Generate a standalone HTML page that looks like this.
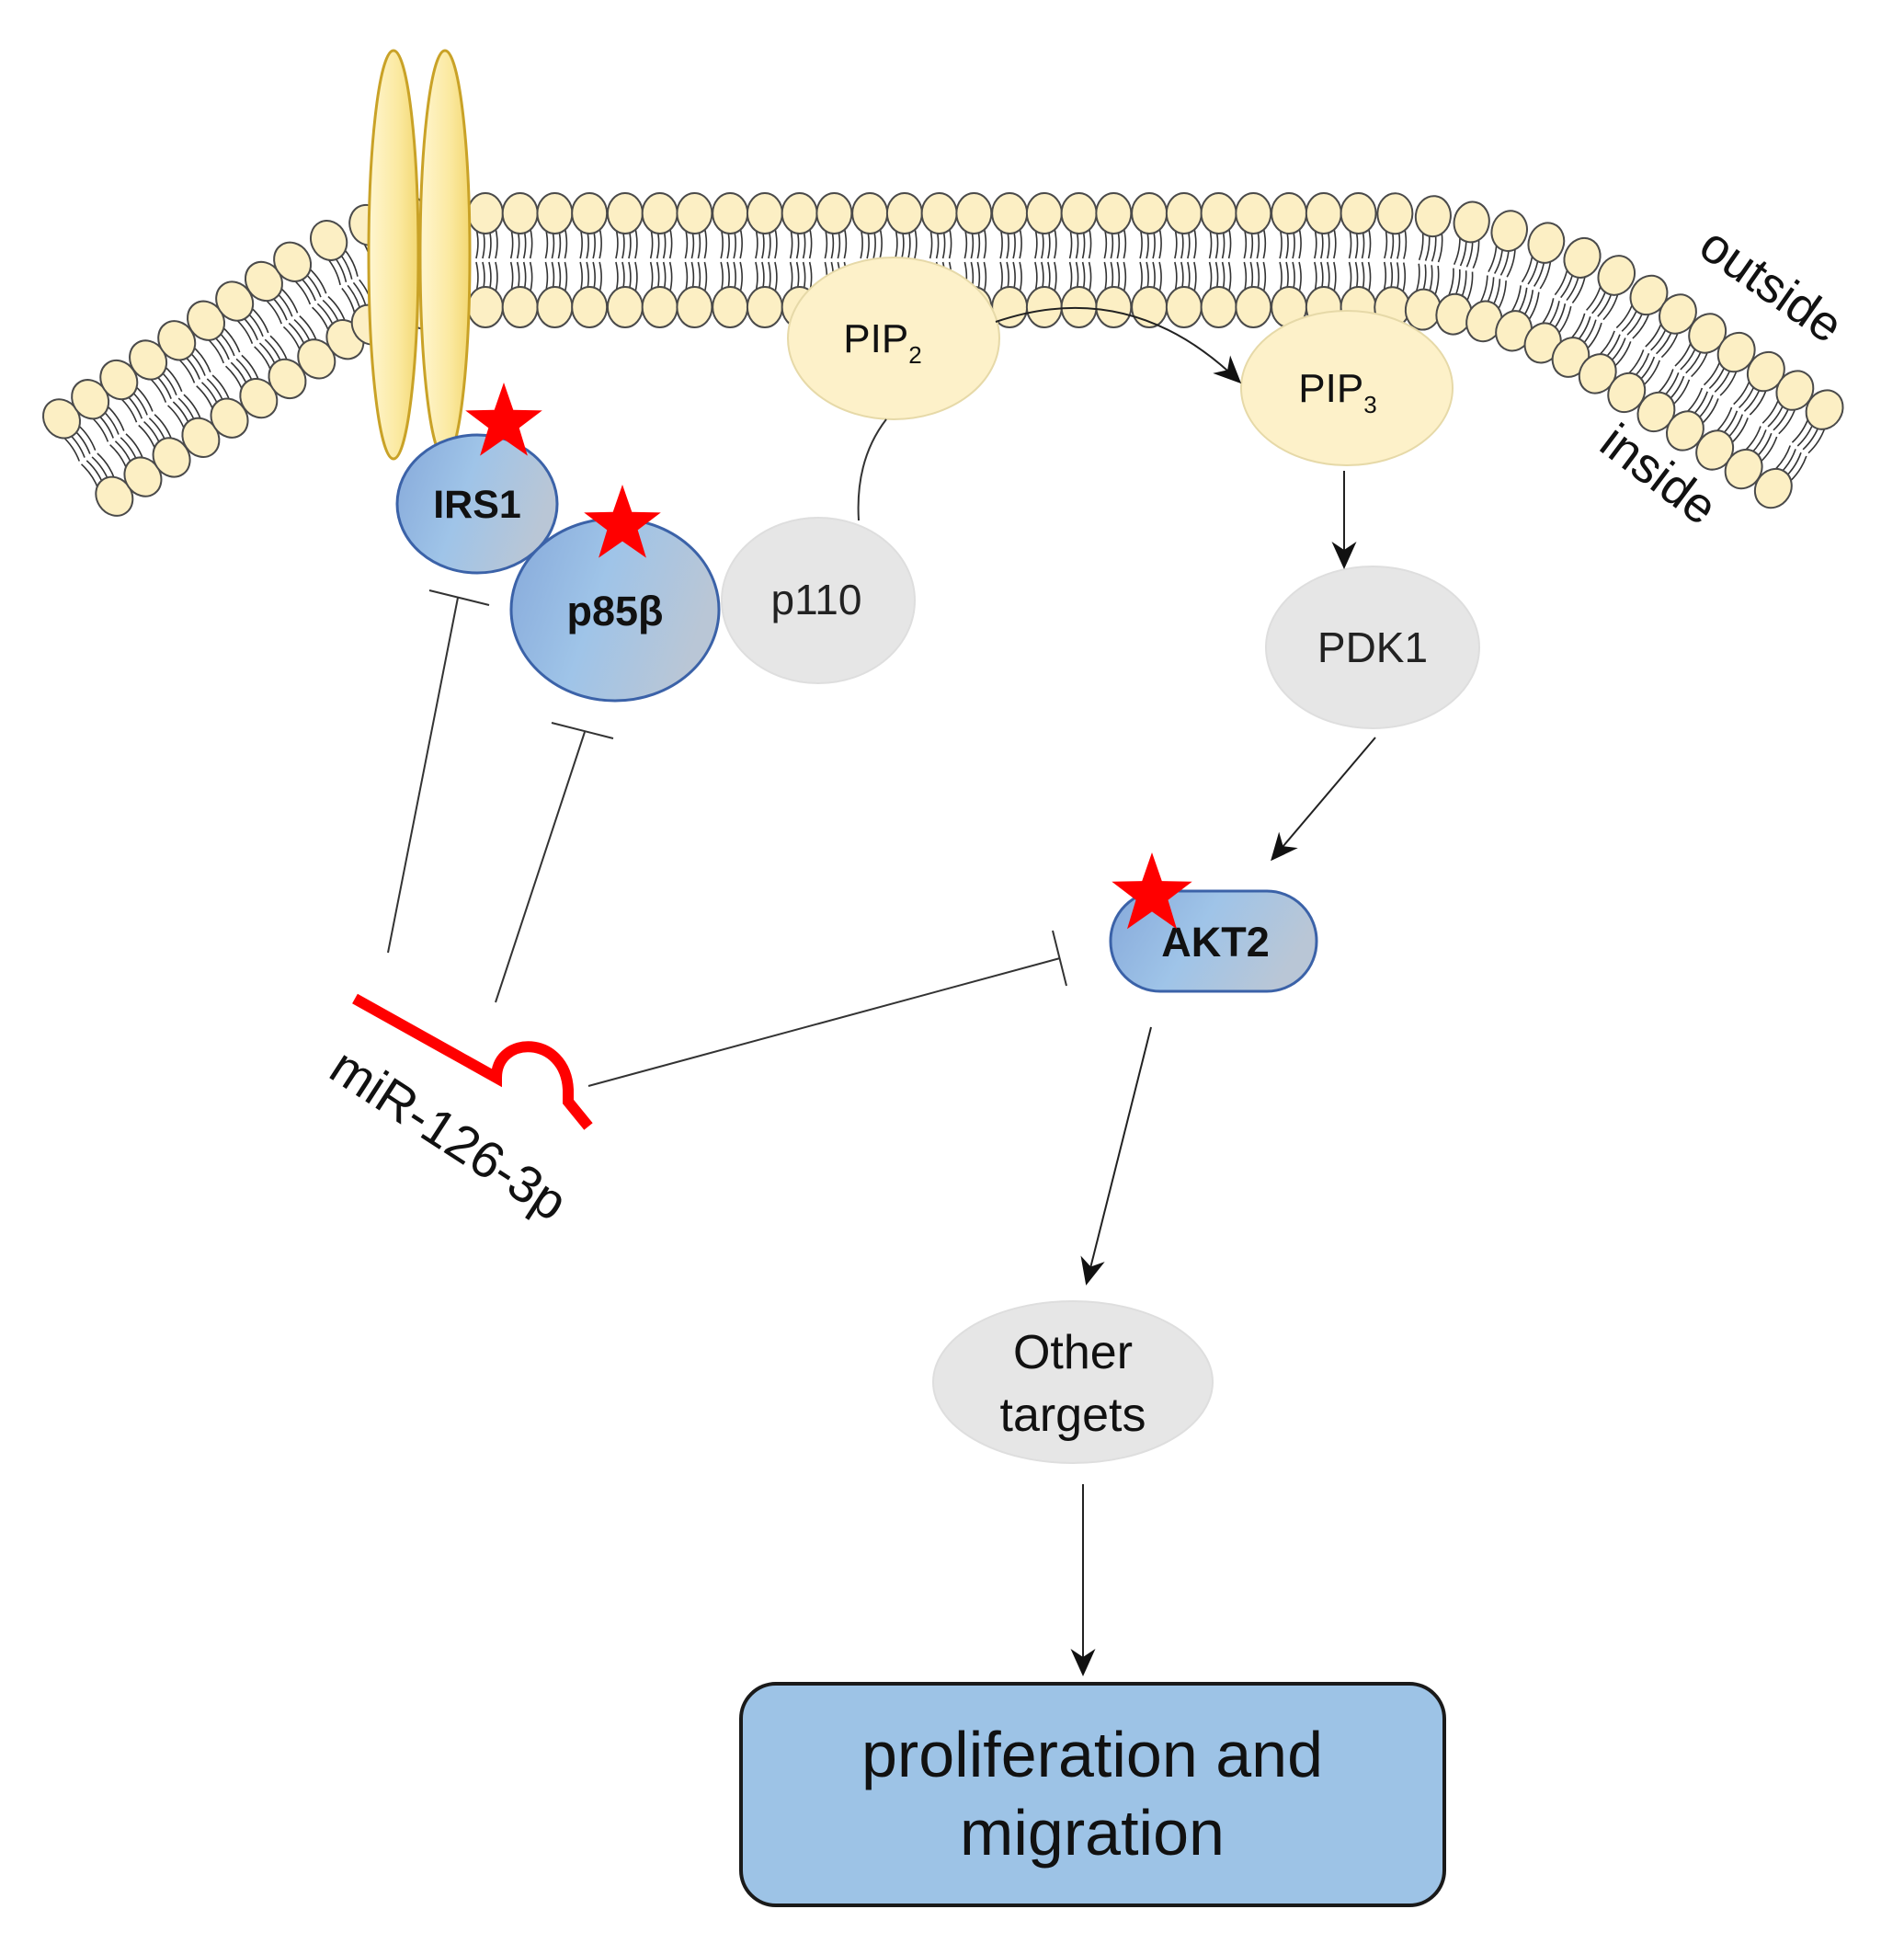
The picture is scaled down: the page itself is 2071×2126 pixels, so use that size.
<!DOCTYPE html>
<html><head><meta charset="utf-8"><style>
html,body{margin:0;padding:0;background:#fff;}
svg{display:block;}
text{font-family:"Liberation Sans",Arial,sans-serif;}
</style></head><body>
<svg id="s" width="2071" height="2126" viewBox="0 0 2071 2126" xmlns="http://www.w3.org/2000/svg">
<defs>
<linearGradient id="blue" x1="0" y1="0" x2="1" y2="0.3">
<stop offset="0" stop-color="#86a9da"/><stop offset="0.5" stop-color="#9fc4e8"/><stop offset="1" stop-color="#b9c6d6"/>
</linearGradient>
<linearGradient id="gold" x1="0" y1="0" x2="1" y2="0">
<stop offset="0" stop-color="#fff6d0"/><stop offset="0.6" stop-color="#fbe9a0"/><stop offset="1" stop-color="#f3d873"/>
</linearGradient>
<marker id="ahb" viewBox="0 0 20 20" refX="18" refY="10" markerWidth="30" markerHeight="30" markerUnits="userSpaceOnUse" orient="auto">
<path d="M0,1 L20,10 L0,19 L6,10 Z" fill="#111"/>
</marker>
</defs>
<g id="mem"></g>

<ellipse cx="428" cy="277" rx="27" ry="222" fill="url(#gold)" stroke="#c9a227" stroke-width="3"/>
<ellipse cx="484" cy="277" rx="27" ry="222" fill="url(#gold)" stroke="#c9a227" stroke-width="3"/>

<ellipse cx="972" cy="368" rx="115" ry="88" fill="#fdf1c9" stroke="#e6d9a8" stroke-width="2"/>
<text x="960" y="383" font-size="44" text-anchor="middle" fill="#111">PIP<tspan font-size="26" dy="12">2</tspan></text>
<ellipse cx="1465" cy="422" rx="115" ry="84" fill="#fdf1c9" stroke="#e6d9a8" stroke-width="2"/>
<text x="1455" y="437" font-size="44" text-anchor="middle" fill="#111">PIP<tspan font-size="26" dy="12">3</tspan></text>
<path d="M1083,350 Q1230,300 1348,415" fill="none" stroke="#222" stroke-width="2" marker-end="url(#ahb)"/>

<path d="M934,566 Q930,500 964,456" fill="none" stroke="#333" stroke-width="2"/>

<ellipse cx="890" cy="653" rx="105" ry="90" fill="#e6e6e6" stroke="#dedede" stroke-width="2"/>
<text x="888" y="668" font-size="46" text-anchor="middle" fill="#222">p110</text>
<ellipse cx="519" cy="548" rx="87" ry="75" fill="url(#blue)" stroke="#3b62a8" stroke-width="3"/>
<text x="519" y="563" font-size="43" font-weight="bold" text-anchor="middle" fill="#111">IRS1</text>
<ellipse cx="669" cy="663" rx="113" ry="99" fill="url(#blue)" stroke="#3b62a8" stroke-width="3"/>
<text x="669" y="680" font-size="45" font-weight="bold" text-anchor="middle" fill="#111">p85β</text>

<ellipse cx="1493" cy="704" rx="116" ry="88" fill="#e6e6e6" stroke="#dedede" stroke-width="2"/>
<text x="1493" y="720" font-size="46" text-anchor="middle" fill="#222">PDK1</text>
<path d="M1462,512 L1462,616" stroke="#222" stroke-width="2" marker-end="url(#ahb)"/>
<path d="M1496,802 L1384,934" stroke="#222" stroke-width="2" marker-end="url(#ahb)"/>

<rect x="1208" y="969" width="224" height="109" rx="54" fill="url(#blue)" stroke="#3b62a8" stroke-width="3"/>
<text x="1322" y="1040" font-size="45" font-weight="bold" text-anchor="middle" fill="#111">AKT2</text>

<path d="M1252,1117 L1182,1395" stroke="#222" stroke-width="2" marker-end="url(#ahb)"/>
<ellipse cx="1167" cy="1503" rx="152" ry="88" fill="#e6e6e6" stroke="#dedede" stroke-width="2"/>
<text x="1167" y="1488" font-size="52" text-anchor="middle" fill="#111">Other</text>
<text x="1167" y="1556" font-size="52" text-anchor="middle" fill="#111">targets</text>
<path d="M1178,1614 L1178,1820" stroke="#222" stroke-width="2" marker-end="url(#ahb)"/>

<rect x="806" y="1831" width="765" height="241" rx="38" fill="#9dc3e6" stroke="#1a1a1a" stroke-width="4"/>
<text x="1188" y="1932" font-size="70" text-anchor="middle" fill="#111">proliferation and</text>
<text x="1188" y="2017" font-size="70" text-anchor="middle" fill="#111">migration</text>

<g stroke="#333" stroke-width="2" fill="none">
<path d="M422,1036 L498,650"/><path d="M467,642 L532,658"/>
<path d="M539,1090 L636,796"/><path d="M600,786 L667,803"/>
<path d="M640,1181 L1153,1042"/><path d="M1145,1012 L1160,1072"/>
</g>

<path d="M386,1086 L540,1172 C540,1125 615,1125 618,1185 L618,1198 L640,1225" fill="none" stroke="#ff0000" stroke-width="12" stroke-linejoin="miter"/>
<text x="0" y="0" font-size="56" fill="#111" transform="translate(355,1170) rotate(33)">miR-126-3p</text>

<text x="0" y="0" font-size="54" fill="#111" transform="translate(1845,275) rotate(35)">outside</text>
<text x="0" y="0" font-size="54" fill="#111" transform="translate(1737,488) rotate(37)">inside</text>

<g id="stars"></g>
</svg>
<script>
(function(){
var NS="http://www.w3.org/2000/svg";
function el(t,a,p){var e=document.createElementNS(NS,t);for(var k in a)e.setAttribute(k,a[k]);p.appendChild(e);return e;}
var pts=[];
function line(a,b,n){for(var i=0;i<n;i++){var t=i/n;pts.push([a[0]+(b[0]-a[0])*t,a[1]+(b[1]-a[1])*t]);}}
function quad(a,c,b,n){for(var i=0;i<n;i++){var t=i/n,u=1-t;pts.push([u*u*a[0]+2*u*t*c[0]+t*t*b[0],u*u*a[1]+2*u*t*c[1]+t*t*b[1]]);}}
line([95,498],[360,318],400);
quad([360,318],[420,283],[480,283],120);
line([480,283],[1500,283],1000);
quad([1500,283],[1640,283],[1760,360],300);
line([1760,360],[1970,497],300);pts.push([1970,497]);
var g=document.getElementById('mem');
var tails=el('g',{stroke:'#333','stroke-width':'1.6',fill:'none'},g);
var heads=el('g',{fill:'#fcefc4',stroke:'#4a4a4a','stroke-width':'2'},g);
var acc=0,next=0,H=51;
for(var i=1;i<pts.length;i++){
 var dx=pts[i][0]-pts[i-1][0],dy=pts[i][1]-pts[i-1][1],d=Math.hypot(dx,dy);acc+=d;
 if(acc>=next){
  next+=38;
  var tx=dx/d,ty=dy/d,nx=ty,ny=-tx,cx=pts[i][0],cy=pts[i][1];
  var ang=Math.atan2(ty,tx)*180/Math.PI;
  [1,-1].forEach(function(s){
   [-10,-3,4,11].forEach(function(o){
    var x1=cx+nx*s*(H-16)+tx*o,y1=cy+ny*s*(H-16)+ty*o;
    var x2=cx+nx*s*2+tx*o,y2=cy+ny*s*2+ty*o;
    var mx=(x1+x2)/2+tx*4,my=(y1+y2)/2+ty*4;
    el('path',{d:'M'+x1+','+y1+' Q'+mx+','+my+' '+x2+','+y2},tails);
   });
   var hx=cx+nx*s*H,hy=cy+ny*s*H;
   el('ellipse',{cx:hx,cy:hy,rx:19,ry:22,transform:'rotate('+ang+' '+hx+' '+hy+')'},heads);
  });
 }
}
var sg=document.getElementById('stars');
function star(cx,cy,R){var r=R*0.4,p=[];for(var k=0;k<10;k++){var a=-Math.PI/2+k*Math.PI/5,rr=k%2?r:R;p.push((cx+rr*Math.cos(a)).toFixed(1)+','+(cy+rr*Math.sin(a)).toFixed(1));}
 el('polygon',{points:p.join(' '),fill:'#ff0000'},sg);}
star(548,460,44);star(677,571,44);star(1253,973,46);
})();
</script>
</body></html>
